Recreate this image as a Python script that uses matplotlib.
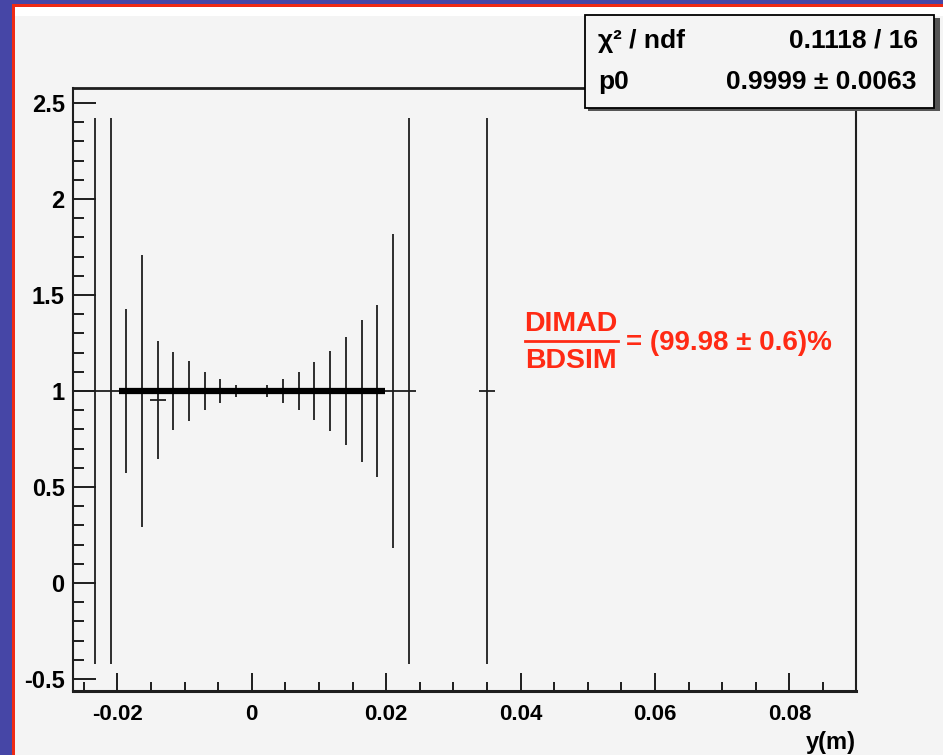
import numpy as np
import matplotlib.pyplot as plt
from matplotlib.patches import Rectangle
from matplotlib.lines import Line2D

plt.rcParams['font.family'] = ['Liberation Sans', 'DejaVu Sans']
plt.rcParams['font.weight'] = 'bold'

W, H = 943, 755

# bin centres y (m), DIMAD/BDSIM ratio and its error
y_pos = [-0.02567, -0.02333, -0.02100, -0.01867, -0.01633, -0.01400,
         -0.01167, -0.00933, -0.00700, -0.00467, -0.00233, 0.00000,
          0.00233,  0.00467,  0.00700,  0.00933,  0.01167,  0.01400,
          0.01633,  0.01867,  0.02100,  0.02333,  0.03500]
ratio = [1.000, 1.000, 1.000, 1.000, 1.000, 0.953,
         1.000, 1.000, 1.000, 1.000, 1.000, 1.000,
         1.000, 1.000, 1.000, 1.000, 1.000, 1.000,
         1.000, 1.000, 1.000, 1.000, 1.000]
ratio_err = [0.00, 1.42, 1.42, 0.427, 0.71, 0.305,
             0.204, 0.157, 0.10, 0.06, 0.03, 0.005,
             0.032, 0.06, 0.10, 0.15, 0.21, 0.28,
             0.37, 0.45, 0.82, 1.42, 1.42]
half_bin = 0.001167

# pol0 fit
fit_range = [-0.0198, 0.0198]
p0 = 0.9999


def fx(x):
    return x / W


def fy(y):
    return 1 - y / H


fig = plt.figure(figsize=(W / 100, H / 100), dpi=100, facecolor='#f4f4f4')

# slide border
fig.patches.append(Rectangle((0, fy(16)), 1, fy(7) - fy(16), transform=fig.transFigure,
                             facecolor='white', edgecolor='none', zorder=0))
fig.patches.append(Rectangle((0, 0), fx(12), 1, transform=fig.transFigure,
                             facecolor='#4646a6', edgecolor='none', zorder=0))
fig.patches.append(Rectangle((0, fy(4)), 1, 1 - fy(4), transform=fig.transFigure,
                             facecolor='#4646a6', edgecolor='none', zorder=0))
fig.patches.append(Rectangle((fx(12), 0), fx(3), fy(4), transform=fig.transFigure,
                             facecolor='#ee2a14', edgecolor='none', zorder=0))
fig.patches.append(Rectangle((fx(12), fy(7)), 1, fy(4) - fy(7), transform=fig.transFigure,
                             facecolor='#ee2a14', edgecolor='none', zorder=0))

ax = fig.add_axes([fx(73), fy(691), fx(856) - fx(73), fy(88) - fy(691)])
ax.set_facecolor('#f4f4f4')

ax.errorbar(y_pos, ratio, yerr=ratio_err, xerr=half_bin, fmt='none',
            ecolor='#1e1e1e', elinewidth=1.3, capsize=0)
ax.plot(fit_range, [p0, p0], color='black', lw=4.5, solid_capstyle='butt')

ax.set_xlim(-0.0266, 0.0899)
ax.set_ylim(-0.5625, 2.578)
ax.set_xticks([-0.02, 0, 0.02, 0.04, 0.06, 0.08])
ax.set_xticklabels(['-0.02', '0', '0.02', '0.04', '0.06', '0.08'])
ax.set_xticks(np.arange(-0.025, 0.09, 0.005), minor=True)
ax.set_yticks([-0.5, 0, 0.5, 1, 1.5, 2, 2.5])
ax.set_yticklabels(['-0.5', '0', '0.5', '1', '1.5', '2', '2.5'])
ax.set_yticks(np.arange(-0.5, 2.55, 0.1), minor=True)

ax.tick_params(axis='both', which='both', direction='in', top=False, right=False,
               color='#1e1e1e', width=1.4)
ax.tick_params(axis='y', which='major', length=16.5, pad=6, labelsize=17)
ax.tick_params(axis='y', which='minor', length=7.7)
ax.tick_params(axis='x', which='major', length=12.7, pad=9, labelsize=16)
ax.tick_params(axis='x', which='minor', length=6.5)
for s in ax.spines.values():
    s.set_color('#1e1e1e')
    s.set_linewidth(1.5)
ax.spines['bottom'].set_linewidth(2.2)
ax.spines['top'].set_linewidth(2.0)

ax.set_xlabel('y(m)', loc='right', fontsize=17, fontweight='bold', labelpad=5)

# ratio annotation
red = '#ff2a14'
fig.text(fx(571), fy(324), 'DIMAD', color=red, fontsize=20.5, ha='center', va='center')
fig.lines.append(Line2D([fx(525), fx(618)], [fy(341), fy(341)], transform=fig.transFigure,
                        color=red, lw=2))
fig.text(fx(571), fy(361), 'BDSIM', color=red, fontsize=20.5, ha='center', va='center')
fig.text(fx(626), fy(343), '= (99.98 \u00b1 0.6)%', color=red, fontsize=20,
         ha='left', va='center')

# fit statistics box
fig.patches.append(Rectangle((fx(588), fy(111)), fx(937) - fx(585), fy(15) - fy(108),
                             transform=fig.transFigure, facecolor='#555555',
                             edgecolor='none', zorder=5))
fig.patches.append(Rectangle((fx(585), fy(108)), fx(934) - fx(585), fy(15) - fy(108),
                             transform=fig.transFigure, facecolor='#f4f4f4',
                             edgecolor='black', lw=1.3, zorder=6))
fig.text(fx(598), fy(41), '\u03c7\u00b2 / ndf', fontsize=19, ha='left', va='center', zorder=7)
fig.text(fx(918), fy(41), '0.1118 / 16', fontsize=19, ha='right', va='center', zorder=7)
fig.text(fx(598), fy(82), 'p0', fontsize=19, ha='left', va='center', zorder=7)
fig.text(fx(916), fy(82), '0.9999 \u00b1 0.0063', fontsize=19, ha='right', va='center', zorder=7)

fig.savefig('out.png', dpi=100, facecolor=fig.get_facecolor())
